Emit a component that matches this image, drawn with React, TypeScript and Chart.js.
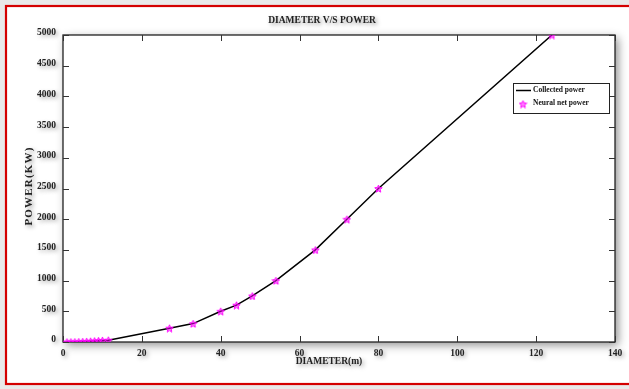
import React, { useEffect, useRef } from "react";
import { Chart, registerables } from "chart.js";

Chart.register(...registerables);

// ---- data ----
const diameters = [1, 2, 3, 4, 5, 6, 7, 8, 9, 10, 11.5, 27, 33, 40, 44, 48, 54, 64, 72, 80, 124];
const collectedPower = [1, 2, 3, 5, 7, 10, 13, 17, 21, 26, 30, 225, 300, 500, 600, 750, 1000, 1500, 2000, 2500, 5000];
const neuralNetPower = [1, 2, 3, 5, 7, 10, 13, 17, 21, 26, 30, 225, 300, 500, 600, 750, 1000, 1500, 2000, 2500, 5000];
const xTicks = [0, 20, 40, 60, 80, 100, 120, 140];
const yTicks = [0, 500, 1000, 1500, 2000, 2500, 3000, 3500, 4000, 4500, 5000];
const seriesLabels = ["Collected power", "Neural net power"];
const chartTitle = "DIAMETER V/S POWER";
const xTitle = "DIAMETER(m)";
const yTitle = "POWER(KW)";

const FONT = '"Liberation Serif", "DejaVu Serif", serif';
const MAGENTA = "#ff00ff";

function makeStar(size: number, color: string): HTMLCanvasElement {
  const c = document.createElement("canvas");
  c.width = size;
  c.height = size;
  const ctx = c.getContext("2d")!;
  const cx = size / 2;
  const cy = size / 2 + 0.5;
  const R = size / 2 - 0.6;
  const r = R * 0.45;
  ctx.beginPath();
  for (let i = 0; i < 10; i++) {
    const a = -Math.PI / 2 + (i * Math.PI) / 5;
    const rad = i % 2 === 0 ? R : r;
    ctx.lineTo(cx + rad * Math.cos(a), cy + rad * Math.sin(a));
  }
  ctx.closePath();
  ctx.fillStyle = color;
  ctx.globalAlpha = 0.5;
  ctx.fill();
  ctx.globalAlpha = 1;
  ctx.strokeStyle = color;
  ctx.lineWidth = 1;
  ctx.stroke();
  return c;
}

function setShadow(ctx: CanvasRenderingContext2D, on: boolean, blur = 4, off = 2, alpha = 0.4) {
  if (on) {
    ctx.shadowColor = `rgba(0,0,0,${alpha})`;
    ctx.shadowBlur = blur;
    ctx.shadowOffsetX = off;
    ctx.shadowOffsetY = off;
  } else {
    ctx.shadowColor = "rgba(0,0,0,0)";
    ctx.shadowBlur = 0;
    ctx.shadowOffsetX = 0;
    ctx.shadowOffsetY = 0;
  }
}

export default function App() {
  const ref = useRef<HTMLCanvasElement | null>(null);

  useEffect(() => {
    document.body.style.margin = "0";
    const canvas = ref.current!;
    const star = makeStar(9, MAGENTA);

    const decor = {
      id: "decor",
      beforeDraw(chart: any) {
        const ctx = chart.ctx as CanvasRenderingContext2D;
        const { width, height, chartArea } = chart;
        ctx.save();
        ctx.fillStyle = "#e9e9e9";
        ctx.fillRect(0, 0, width, height);
        ctx.fillStyle = "#ffffff";
        ctx.fillRect(6, 6, width, height - 11);
        ctx.strokeStyle = "#d40000";
        ctx.lineWidth = 2.2;
        ctx.strokeRect(6, 6, width + 10, height - 11);
        // plot box shadow
        setShadow(ctx, true, 9, 3, 0.45);
        ctx.fillStyle = "#ffffff";
        ctx.fillRect(chartArea.left, chartArea.top, chartArea.right - chartArea.left, chartArea.bottom - chartArea.top);
        ctx.restore();
        // shadows for tick labels drawn next
        setShadow(ctx, true, 4, 2, 0.35);
      },
      beforeDatasetsDraw(chart: any) {
        const ctx = chart.ctx as CanvasRenderingContext2D;
        setShadow(ctx, false);
        const { chartArea } = chart;
        const xs = chart.scales.x;
        const ys = chart.scales.y;
        ctx.save();
        ctx.strokeStyle = "#222";
        ctx.lineWidth = 1.3;
        ctx.strokeRect(chartArea.left, chartArea.top, chartArea.right - chartArea.left, chartArea.bottom - chartArea.top);
        ctx.lineWidth = 1;
        ctx.strokeStyle = "#333";
        const tl = 6;
        ctx.beginPath();
        xTicks.forEach((v) => {
          const p = Math.round(xs.getPixelForValue(v)) + 0.5;
          ctx.moveTo(p, chartArea.bottom);
          ctx.lineTo(p, chartArea.bottom - tl);
          ctx.moveTo(p, chartArea.top);
          ctx.lineTo(p, chartArea.top + tl);
        });
        yTicks.forEach((v) => {
          const p = Math.round(ys.getPixelForValue(v)) + 0.5;
          ctx.moveTo(chartArea.left, p);
          ctx.lineTo(chartArea.left + tl, p);
          ctx.moveTo(chartArea.right, p);
          ctx.lineTo(chartArea.right - tl, p);
        });
        ctx.stroke();
        ctx.restore();
      },
      afterDraw(chart: any) {
        const ctx = chart.ctx as CanvasRenderingContext2D;
        ctx.save();
        setShadow(ctx, true, 4, 2, 0.4);
        ctx.fillStyle = "#222";
        ctx.textAlign = "center";
        ctx.textBaseline = "middle";
        ctx.font = `bold 9.5px ${FONT}`;
        ctx.fillText(chartTitle, 322, 21);
        ctx.fillText(xTitle, 329, 362);
        ctx.save();
        ctx.translate(29, 186);
        ctx.rotate(-Math.PI / 2);
        ctx.font = `bold 11px ${FONT}`;
        (ctx as any).letterSpacing = "1.2px";
        ctx.fillText(yTitle, 0, 0);
        ctx.restore();
        setShadow(ctx, false);

        // legend
        const lx = 513, ly = 83, lw = 96, lh = 30;
        ctx.fillStyle = "#ffffff";
        ctx.fillRect(lx, ly, lw, lh);
        ctx.strokeStyle = "#222";
        ctx.lineWidth = 1;
        ctx.strokeRect(lx + 0.5, ly + 0.5, lw, lh);
        const ds = chart.data.datasets;
        ctx.font = `bold 7.5px ${FONT}`;
        ctx.textAlign = "left";
        ctx.textBaseline = "middle";
        // line entry
        ctx.strokeStyle = ds[0].borderColor;
        ctx.lineWidth = 1.5;
        ctx.beginPath();
        ctx.moveTo(516, 90.5);
        ctx.lineTo(531, 90.5);
        ctx.stroke();
        ctx.fillStyle = "#111";
        ctx.fillText(ds[0].label, 533, 90);
        // star entry
        ctx.drawImage(star, 523 - 4.5, 104 - 4.5);
        ctx.fillStyle = "#111";
        ctx.fillText(ds[1].label, 533, 103);
        ctx.restore();
      },
    };

    const chart = new Chart(canvas, {
      type: "scatter",
      data: {
        datasets: [
          {
            label: seriesLabels[0],
            data: diameters.map((d, i) => ({ x: d, y: collectedPower[i] })),
            showLine: true,
            borderColor: "#000000",
            borderWidth: 1.5,
            pointRadius: 0,
            tension: 0,
            order: 2,
          },
          {
            label: seriesLabels[1],
            data: diameters.map((d, i) => ({ x: d, y: neuralNetPower[i] })),
            showLine: false,
            pointStyle: star as any,
            pointRadius: 4.5,
            borderColor: MAGENTA,
            backgroundColor: MAGENTA,
            order: 1,
          },
        ],
      },
      options: {
        animation: false,
        responsive: false,
        devicePixelRatio: 1,
        layout: { padding: { top: 35, right: 14, left: 0, bottom: 0 } },
        plugins: {
          legend: { display: false },
          tooltip: { enabled: false },
          title: { display: false },
        },
        scales: {
          x: {
            type: "linear",
            min: 0,
            max: 140,
            afterBuildTicks: (s: any) => {
              s.ticks = xTicks.map((v) => ({ value: v }));
            },
            afterFit: (s: any) => {
              s.height = 47;
            },
            grid: { display: false, drawTicks: false },
            border: { display: false },
            ticks: {
              padding: 6,
              color: "#222",
              font: { family: FONT, size: 9.5, weight: "bold" },
              maxRotation: 0,
            },
          },
          y: {
            type: "linear",
            min: 0,
            max: 5000,
            afterBuildTicks: (s: any) => {
              s.ticks = yTicks.map((v) => ({ value: v }));
            },
            afterFit: (s: any) => {
              s.width = 63;
            },
            grid: { display: false, drawTicks: false },
            border: { display: false },
            ticks: {
              padding: 7,
              labelOffset: -2,
              color: "#222",
              font: { family: FONT, size: 9.5, weight: "bold" },
              callback: (v: any) => String(v),
            },
          },
        },
      },
      plugins: [decor],
    } as any);

    return () => chart.destroy();
  }, []);

  return <canvas ref={ref} width={629} height={389} style={{ display: "block", width: 629, height: 389 }} />;
}
